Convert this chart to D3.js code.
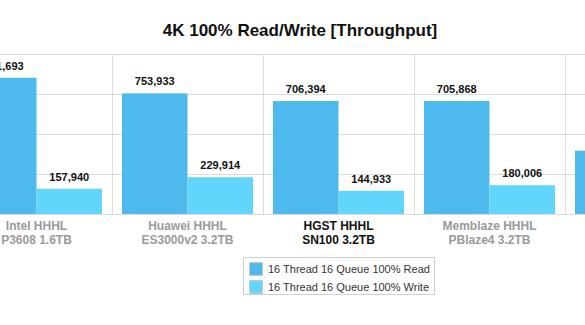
<!DOCTYPE html>
<html>
<head>
<meta charset="utf-8">
<script src="https://cdn.jsdelivr.net/npm/d3@7"></script>
<style>
  body { margin: 0; background: #fff; }
  svg { display: block; font-family: "Liberation Sans", Arial, Helvetica, sans-serif; }
</style>
</head>
<body>
<svg width="585" height="325"></svg>
<script>
// chart data
var categories = [
  ["Intel HHHL", "P3608 1.6TB"],
  ["Huawei HHHL", "ES3000v2 3.2TB"],
  ["HGST HHHL", "SN100 3.2TB"],
  ["Memblaze HHHL", "PBlaze4 3.2TB"],
  ["Next HHHL", "Drive"]
];
var seriesNames = ["16 Thread 16 Queue 100% Read", "16 Thread 16 Queue 100% Write"];
var readValues = [851693, 753933, 706394, 705868, 395600];
var writeValues = [157940, 229914, 144933, 180006, 150000];
var yTicks = [0, 250000, 500000, 750000, 1000000];
var highlighted = 2;

var colors = ["#4eb9ec", "#62d5fd"];

var svg = d3.select("svg");

var x = d3.scaleBand()
  .domain(d3.range(categories.length))
  .range([-39, 716]);

var xInner = d3.scaleBand()
  .domain([0, 1])
  .range([10, x.bandwidth() - 10]);

var y = d3.scaleLinear()
  .domain([0, 1000000])
  .range([214, 54]);

// title
svg.append("text")
  .attr("x", 300)
  .attr("y", 36)
  .attr("text-anchor", "middle")
  .style("font-size", "17px")
  .style("font-weight", "bold")
  .attr("fill", "#111")
  .text("4K 100% Read/Write [Throughput]");

// horizontal grid
svg.append("g")
  .selectAll("line")
  .data(yTicks)
  .enter().append("line")
    .attr("x1", 0).attr("x2", 585)
    .attr("y1", function(d) { return Math.round(y(d)) + 0.5; })
    .attr("y2", function(d) { return Math.round(y(d)) + 0.5; })
    .attr("stroke", "#dcdcdc");

// vertical separators
svg.append("g")
  .selectAll("line")
  .data(d3.range(1, categories.length))
  .enter().append("line")
    .attr("x1", function(d) { return Math.round(x(d)) + 0.5; })
    .attr("x2", function(d) { return Math.round(x(d)) + 0.5; })
    .attr("y1", y(1000000)).attr("y2", y(0))
    .attr("stroke", "#dcdcdc");

var rows = categories.map(function(c, i) {
  return { i: i, values: [readValues[i], writeValues[i]] };
});

var group = svg.append("g")
  .selectAll("g")
  .data(rows)
  .enter().append("g")
    .attr("transform", function(d) { return "translate(" + x(d.i) + ",0)"; });

group.selectAll("rect")
  .data(function(d) { return d.values.map(function(v, k) { return {k: k, v: v}; }); })
  .enter().append("rect")
    .attr("x", function(d) { return xInner(d.k); })
    .attr("width", xInner.bandwidth())
    .attr("y", function(d) { return y(d.v); })
    .attr("height", function(d) { return y(0) - y(d.v); })
    .attr("fill", function(d) { return colors[d.k]; });

group.selectAll("text.val")
  .data(function(d) { return d.values.map(function(v, k) { return {k: k, v: v}; }); })
  .enter().append("text")
    .attr("class", "val")
    .attr("x", function(d) { return xInner(d.k) + xInner.bandwidth() / 2; })
    .attr("y", function(d) { return y(d.v) - 8; })
    .attr("text-anchor", "middle")
    .style("font-size", "11px")
    .style("font-weight", "bold")
    .attr("fill", "#111")
    .text(function(d) { return d3.format(",")(d.v); });

// category labels
group.append("text")
  .attr("x", x.bandwidth() / 2)
  .attr("text-anchor", "middle")
  .style("font-size", "12px")
  .style("font-weight", "bold")
  .attr("fill", function(d) { return d.i === highlighted ? "#111" : "#9a9a9a"; })
  .selectAll("tspan")
  .data(function(d) { return categories[d.i]; })
  .enter().append("tspan")
    .attr("x", x.bandwidth() / 2)
    .attr("y", function(d, k) { return 230 + k * 13.5; })
    .text(function(d) { return d; });

// legend
var legend = svg.append("g").attr("transform", "translate(243,257)");
legend.append("rect")
  .attr("x", 0.5).attr("y", 0.5)
  .attr("width", 191).attr("height", 37)
  .attr("fill", "#fff")
  .attr("stroke", "#cfcfcf");

var item = legend.selectAll("g.item")
  .data(seriesNames)
  .enter().append("g")
    .attr("class", "item")
    .attr("transform", function(d, i) { return "translate(6," + (5 + i * 18) + ")"; });

item.append("rect")
  .attr("x", 0.5).attr("y", 0.5)
  .attr("width", 13).attr("height", 13)
  .attr("fill", function(d, i) { return colors[i]; })
  .attr("stroke", "#c8c8c8");

item.append("text")
  .attr("x", 19)
  .attr("y", 11)
  .style("font-size", "11px")
  .attr("fill", "#333")
  .text(function(d) { return d; });
</script>
</body>
</html>
